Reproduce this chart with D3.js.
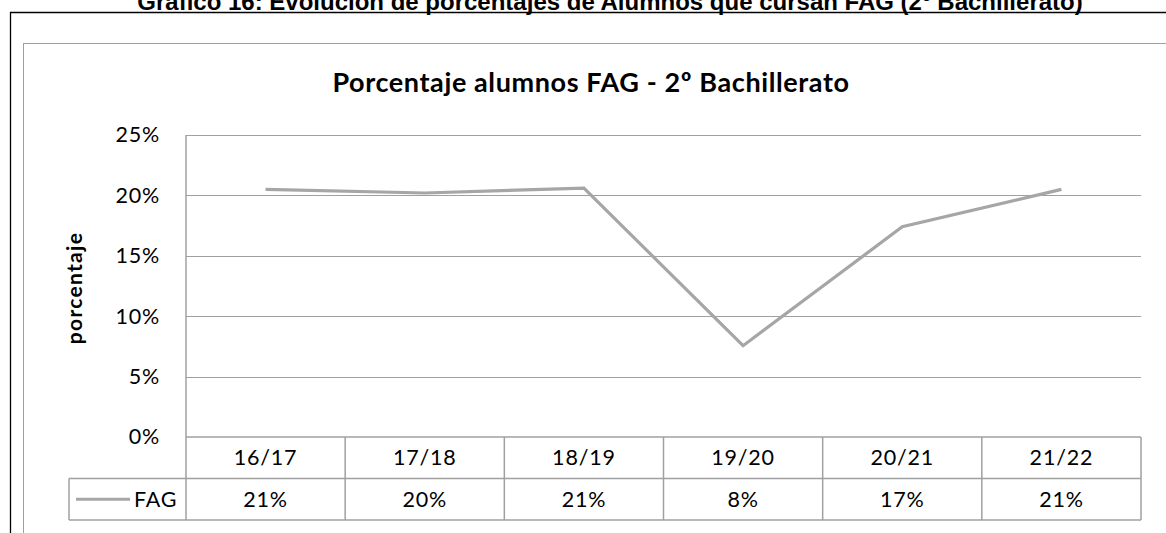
<!DOCTYPE html>
<html>
<head>
<meta charset="utf-8">
<script src="https://cdn.jsdelivr.net/npm/d3@7"></script>
<style>
  body { margin: 0; background: #fff; }
  svg { display: block; }
</style>
</head>
<body>
<script>
// chart data
const categories = ["16/17", "17/18", "18/19", "19/20", "20/21", "21/22"];
const fagValues = [0.205, 0.202, 0.206, 0.0756, 0.174, 0.205];
const fagLabels = ["21%", "20%", "21%", "8%", "17%", "21%"];
const yTicks = [0, 0.05, 0.10, 0.15, 0.20, 0.25];
const seriesName = "FAG";
const pageTitle = "Gráfico 16: Evolución de porcentajes de Alumnos que cursan FAG (2º Bachillerato)";
const chartTitle = "Porcentaje alumnos FAG - 2º Bachillerato";
const yLabel = "porcentaje";

const W = 1166, H = 533;
const plot = {left: 186, right: 1141, top: 135, bottom: 437};
const rowH = 41.5;
const legendLeft = 69;
const grey = "#a6a6a6";
const font = "Lato, 'Open Sans', sans-serif";

const svg = d3.select("body").append("svg")
    .attr("width", W)
    .attr("height", H);

// page frame + heading (cut at the top, as in the source)
svg.append("path")
    .attr("d", "M10.5," + (H + 10) + "V12.5H" + (W + 10))
    .attr("fill", "none")
    .attr("stroke", "#000")
    .attr("stroke-width", 1.3);

svg.append("text")
    .attr("x", 610)
    .attr("y", 10)
    .attr("text-anchor", "middle")
    .attr("font-family", "'Liberation Sans', Arial, sans-serif")
    .attr("font-weight", "bold")
    .attr("font-size", 24)
    .text(pageTitle);

// chart area border
svg.append("rect")
    .attr("x", 23.5)
    .attr("y", 43.5)
    .attr("width", W)
    .attr("height", H)
    .attr("fill", "#fff")
    .attr("stroke", "#a0a0a0");

svg.append("text")
    .attr("x", 591)
    .attr("y", 92)
    .attr("text-anchor", "middle")
    .attr("font-family", font)
    .attr("font-weight", "bold")
    .attr("font-size", 27)
    .attr("letter-spacing", 0.6)
    .text(chartTitle);

// Set the ranges
const x = d3.scaleBand().domain(categories).range([plot.left, plot.right]);
const y = d3.scaleLinear().domain([0, 0.25]).range([plot.bottom, plot.top]);

// gridlines
svg.append("g")
    .selectAll("line")
    .data(yTicks.slice(1))
    .join("line")
      .attr("x1", plot.left)
      .attr("x2", plot.right)
      .attr("y1", d => Math.round(y(d)) + 0.5)
      .attr("y2", d => Math.round(y(d)) + 0.5)
      .attr("stroke", "#a0a0a0");

// y axis labels
const yAxis = d3.axisLeft(y)
    .tickValues(yTicks)
    .tickFormat(d3.format(".0%"))
    .tickSize(0)
    .tickPadding(26);

const yg = svg.append("g")
    .attr("transform", "translate(" + plot.left + ",0)")
    .call(yAxis);
yg.select(".domain").remove();
yg.selectAll("text")
    .attr("font-family", font)
    .attr("font-size", 21.5)
    .attr("letter-spacing", 0.8)
    .attr("fill", "#000");

svg.append("text")
    .attr("transform", "translate(82,288) rotate(-90)")
    .attr("text-anchor", "middle")
    .attr("font-family", font)
    .attr("font-weight", "bold")
    .attr("font-size", 21)
    .attr("letter-spacing", 1.3)
    .text(yLabel);

// data table under the plot
const tableBottom = plot.bottom + 2 * rowH;
const table = svg.append("g")
    .attr("fill", "none")
    .attr("stroke", "#a0a0a0")
    .attr("stroke-width", 1.5);

// horizontal rules
table.append("line")
    .attr("x1", plot.left).attr("x2", plot.right)
    .attr("y1", plot.bottom).attr("y2", plot.bottom);
table.append("line")
    .attr("x1", legendLeft).attr("x2", plot.right)
    .attr("y1", plot.bottom + rowH).attr("y2", plot.bottom + rowH);
table.append("line")
    .attr("x1", legendLeft).attr("x2", plot.right)
    .attr("y1", tableBottom).attr("y2", tableBottom);
table.append("line")
    .attr("x1", legendLeft).attr("x2", legendLeft)
    .attr("y1", plot.bottom + rowH).attr("y2", tableBottom);

// vertical rules (left axis goes up to the top of the plot)
table.append("line")
    .attr("x1", plot.left).attr("x2", plot.left)
    .attr("y1", plot.top).attr("y2", tableBottom);
table.selectAll(".sep")
    .data(categories.slice(1))
    .join("line")
      .attr("class", "sep")
      .attr("x1", d => x(d)).attr("x2", d => x(d))
      .attr("y1", plot.bottom).attr("y2", tableBottom);
table.append("line")
    .attr("x1", plot.right).attr("x2", plot.right)
    .attr("y1", plot.bottom).attr("y2", tableBottom);

svg.append("g")
    .selectAll("text")
    .data(categories)
    .join("text")
      .attr("x", d => x(d) + x.bandwidth() / 2)
      .attr("y", plot.bottom + rowH / 2)
      .attr("dy", "0.35em")
      .attr("text-anchor", "middle")
      .attr("font-family", font)
      .attr("font-size", 21.5)
      .attr("letter-spacing", 0.8)
      .text(d => d);

svg.append("g")
    .selectAll("text")
    .data(fagLabels)
    .join("text")
      .attr("x", (d, i) => x(categories[i]) + x.bandwidth() / 2)
      .attr("y", plot.bottom + rowH * 1.5)
      .attr("dy", "0.35em")
      .attr("text-anchor", "middle")
      .attr("font-family", font)
      .attr("font-size", 21.5)
      .attr("letter-spacing", 0.8)
      .text(d => d);

// legend key in the table
svg.append("line")
    .attr("x1", 76).attr("x2", 130)
    .attr("y1", plot.bottom + rowH * 1.5).attr("y2", plot.bottom + rowH * 1.5)
    .attr("stroke", grey)
    .attr("stroke-width", 3);
svg.append("text")
    .attr("x", 134)
    .attr("y", plot.bottom + rowH * 1.5)
    .attr("dy", "0.35em")
    .attr("font-family", font)
    .attr("font-size", 21.5)
    .attr("letter-spacing", 0.8)
    .text(seriesName);

// Define the line
const valueline = d3.line()
    .x((d, i) => x(categories[i]) + x.bandwidth() / 2)
    .y(d => y(d));

svg.append("path")
    .datum(fagValues)
    .attr("d", valueline)
    .attr("fill", "none")
    .attr("stroke", grey)
    .attr("stroke-width", 3.2)
    .attr("stroke-linejoin", "miter");
</script>
</body>
</html>
